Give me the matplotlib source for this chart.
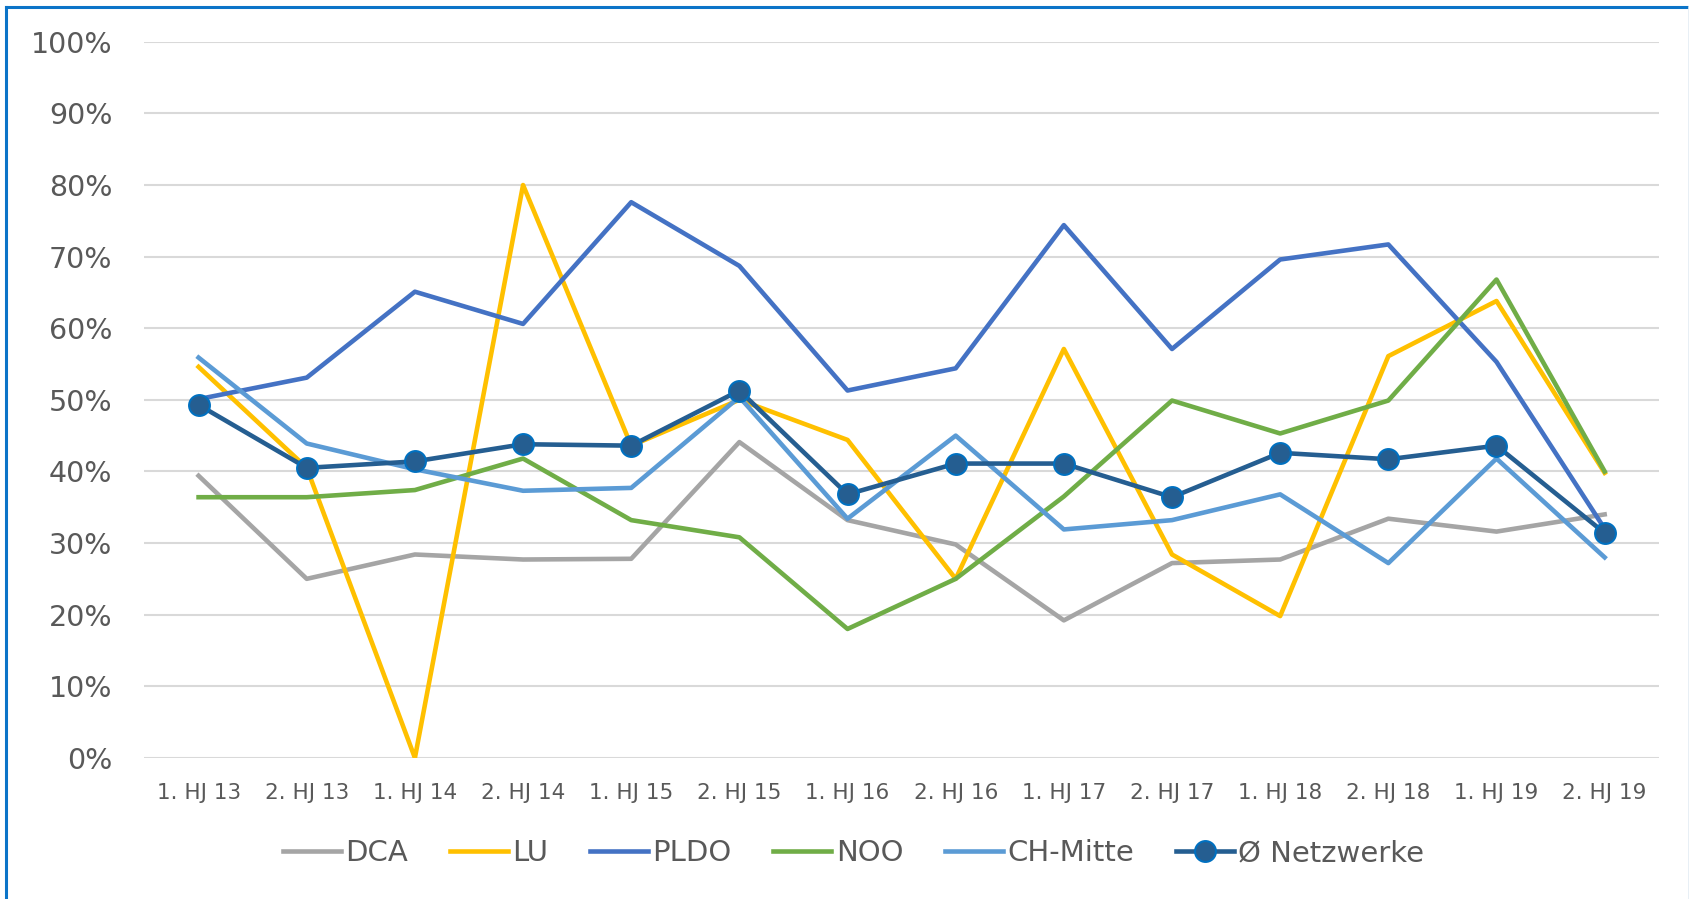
import matplotlib
matplotlib.use("Agg")
import matplotlib.pyplot as plt
from matplotlib.lines import Line2D
from matplotlib.ticker import PercentFormatter

periods = ["1. HJ 13", "2. HJ 13", "1. HJ 14", "2. HJ 14", "1. HJ 15", "2. HJ 15",
           "1. HJ 16", "2. HJ 16", "1. HJ 17", "2. HJ 17", "1. HJ 18", "2. HJ 18",
           "1. HJ 19", "2. HJ 19"]

dca = [39.4, 25.0, 28.4, 27.7, 27.8, 44.1, 33.2, 29.8, 19.2, 27.2, 27.7, 33.4, 31.6, 34.0]
lu = [54.6, 40.5, 0.0, 80.0, 43.6, 50.0, 44.4, 25.0, 57.1, 28.4, 19.8, 56.1, 63.8, 39.8]
pldo = [50.1, 53.1, 65.1, 60.6, 77.6, 68.7, 51.3, 54.4, 74.4, 57.1, 69.6, 71.7, 55.3, 32.0]
noo = [36.4, 36.4, 37.4, 41.8, 33.2, 30.8, 18.0, 25.0, 36.5, 49.9, 45.3, 49.9, 66.8, 40.0]
ch_mitte = [55.9, 43.9, 40.3, 37.3, 37.7, 50.4, 33.4, 45.0, 31.9, 33.2, 36.8, 27.2, 41.8, 28.0]
avg = [49.3, 40.5, 41.4, 43.8, 43.6, 51.3, 36.8, 41.1, 41.1, 36.4, 42.6, 41.7, 43.6, 31.4]

text_col = "#595959"
plt.rcParams["font.family"] = ["DejaVu Sans"]

fig = plt.figure(figsize=(16.9, 8.99), dpi=100)
ax = fig.add_axes([0.0855, 0.157, 0.896, 0.7965])

x = range(len(periods))
lw = 3.3
ax.plot(x, dca, color="#A5A5A5", lw=lw, label="DCA")
ax.plot(x, lu, color="#FFC000", lw=lw, label="LU")
ax.plot(x, pldo, color="#4472C4", lw=lw, label="PLDO")
ax.plot(x, noo, color="#70AD47", lw=lw, label="NOO")
ax.plot(x, ch_mitte, color="#5B9BD5", lw=lw, label="CH-Mitte")
ax.plot(x, avg, color="#255E91", lw=lw, marker="o", markersize=15,
        markerfacecolor="#255E91", markeredgecolor="#0070C0", markeredgewidth=1.5,
        label="Ø Netzwerke")

ax.set_xlim(-0.5, len(periods) - 0.5)
ax.set_ylim(0, 100)
ax.set_yticks(range(0, 101, 10))
ax.yaxis.set_major_formatter(PercentFormatter(decimals=0))
ax.set_xticks(list(x))
ax.set_xticklabels(periods)
ax.tick_params(axis="y", length=0, pad=23, labelsize=20.5, labelcolor=text_col)
ax.tick_params(axis="x", length=0, pad=18, labelsize=15.5, labelcolor=text_col)
ax.grid(True, axis="y", color="#D9D9D9", lw=1.5)
ax.set_axisbelow(True)
for s in ax.spines.values():
    s.set_visible(False)

leg = fig.legend(loc="center", bbox_to_anchor=(0.505, 0.051), ncol=6, frameon=False,
                 fontsize=21, handlelength=2.0, handletextpad=0.15, columnspacing=1.42)
for t in leg.get_texts():
    t.set_color(text_col)

# chart frame (blue left/top edge)
fig.add_artist(Line2D([0.0036, 0.0036], [0.0, 0.9925], color="#0B74C8", lw=2.2,
                      transform=fig.transFigure))
fig.add_artist(Line2D([0.0036, 1.0], [0.9925, 0.9925], color="#0B74C8", lw=2.2,
                      transform=fig.transFigure))
fig.add_artist(Line2D([0.9994, 0.9994], [0.0, 0.9925], color="#E4ECF4", lw=1.2,
                      transform=fig.transFigure))

fig.savefig("out.png", dpi=100)
